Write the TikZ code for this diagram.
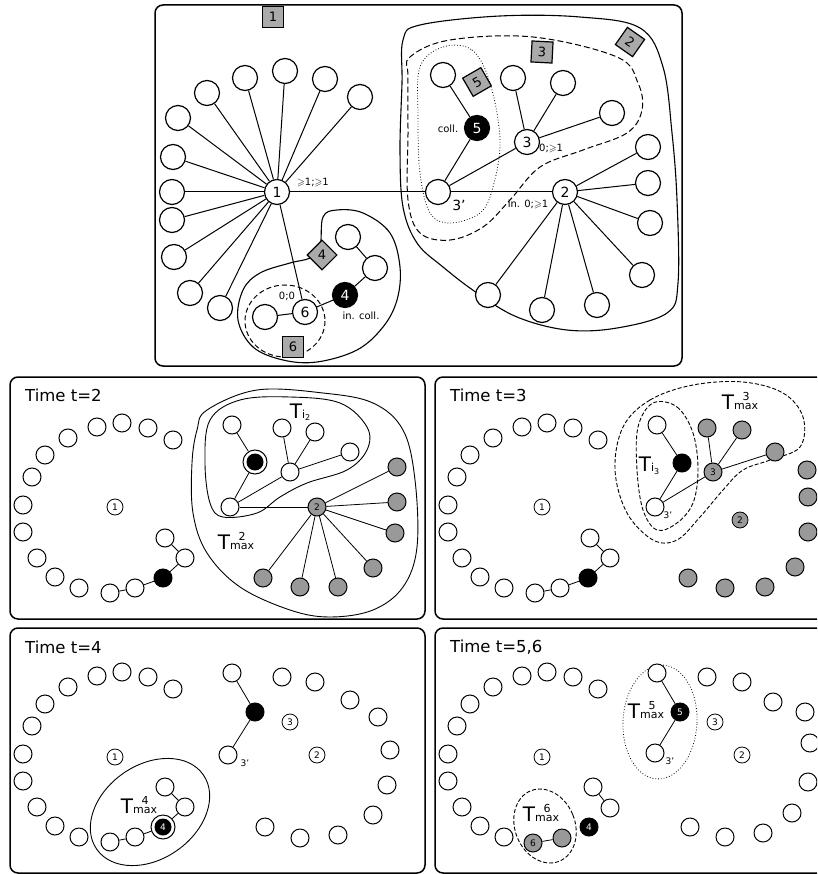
\documentclass[tikz,border=0pt]{standalone}
\usepackage{fontspec}
\setmainfont{DejaVu Sans}
\usepackage{amssymb}
\definecolor{sqgray}{HTML}{AAAAAA}
\definecolor{ngray}{HTML}{999999}
\newcommand{\Tmax}[1]{T{\fontsize{11}{11}\selectfont\setbox0\hbox{max}\rlap{\hbox to\wd0{\hss\raisebox{9pt}{#1}\hss}}\box0}}
\newcommand{\Tind}[1]{T{\fontsize{11}{11}\selectfont i\raisebox{-2.5pt}{\fontsize{8}{8}\selectfont #1}}}
\tikzset{
 every node/.style={inner sep=0pt},
 bn/.style={circle,draw,line width=1.2pt,minimum size=25pt,fill=white,font=\fontsize{14}{14}\selectfont},
 bnb/.style={bn,fill=black,text=white},
 sq/.style={rectangle,draw,line width=1.2pt,fill=sqgray,minimum size=21pt,font=\fontsize{13}{13}\selectfont},
 sn/.style={circle,draw,line width=1pt,minimum size=18pt,fill=white},
 gn/.style={sn,fill=ngray},
 kn/.style={sn,fill=black},
 lnode/.style={circle,draw,line width=0.8pt,minimum size=16pt,fill=white,font=\fontsize{9}{9}\selectfont},
 tl/.style={line width=1pt},
 bl/.style={line width=0.8pt},
 panel/.style={draw,line width=1.5pt,rounded corners=8pt},
 ttl/.style={anchor=west,font=\fontsize{16.5}{16.5}\selectfont},
 sml/.style={font=\fontsize{10}{10}\selectfont},
 tlab/.style={font=\fontsize{20}{20}\selectfont},
}
\newcommand{\leftring}[1]{%
 \foreach \x/\y [count=\i] in {97/427,122/423,148/428,173/440,68/438,45/455,32/477,23/505,23/532,37/558,55/577,79/588,110/593,135/588}
  \node[sn] (#1\i) at (\x,\y) {};}
\begin{document}
\begin{tikzpicture}[x=1pt,y=-1pt]
\useasboundingbox (0,0) rectangle (817,874);
\clip (0,0) rectangle (817,874);
% ================= TOP PANEL =================
\draw[panel] (155,5) rectangle (682,366);
\draw[line width=1.1pt] plot[smooth cycle,tension=0.6] coordinates {(403,40) (420,25) (500,16) (580,17) (640,28) (663,67) (672,133) (677,200) (678,283) (667,313) (617,328) (567,330) (517,317) (477,293) (443,267) (417,243) (403,207) (400,150) (402,83)};
\draw[line width=1pt,dash pattern=on 6pt off 3pt] plot[smooth cycle,tension=0.6] coordinates {(410,57) (450,40) (533,37) (617,57) (638,83) (642,110) (627,133) (583,150) (540,167) (510,200) (483,227) (450,240) (420,233) (408,200) (408,133) (408,77)};
\draw[line width=0.8pt,dotted] plot[smooth cycle,tension=0.6] coordinates {(443,47) (472,50) (490,83) (500,140) (493,187) (480,213) (450,223) (430,213) (420,173) (418,117) (420,67)};
\draw[line width=1.1pt] plot[smooth cycle,tension=0.6] coordinates {(323,217) (337,210) (363,213) (390,233) (400,267) (397,300) (383,327) (357,350) (317,362) (283,360) (253,347) (238,320) (243,290) (260,273) (290,263) (310,258) (320,247)};
\draw[line width=1pt,dash pattern=on 5pt off 3pt] (285,321) ellipse [x radius=40, y radius=36];
% nodes
\node[bn] (n1) at (277,192) {1};
\foreach \x/\y [count=\i] in {245/78,285/71,325/79,360/97,207/93,178/118,173/157,172/192,172/220,174/257,190/293,220/308}
  \node[bn] (a\i) at (\x,\y) {};
\node[bn] (n6) at (305,312) {6};
\node[bn] (l6) at (265,317) {};
\node[bnb] (n4) at (345,295) {4};
\node[bn] (p1) at (375,268) {};
\node[bn] (p2) at (348,237) {};
\node[bn] (n3p) at (438,192) {};
\node[bn] (n2) at (565,192) {2};
\node[bn] (n3) at (527,142) {3};
\node[bnb] (n5) at (477,128) {5};
\node[bn] (q5) at (443,75) {};
\foreach \x/\y [count=\i] in {513/78,563/83,612/113}
  \node[bn] (c\i) at (\x,\y) {};
\foreach \x/\y [count=\i] in {648/147,648/183,650/223,642/275,597/305,542/310,488/295}
  \node[bn] (d\i) at (\x,\y) {};
% edges
\foreach \i in {1,...,12} \draw[tl] (n1) -- (a\i);
\draw[tl] (n1) -- (n6);
\draw[tl] (n1) -- (n3p);
\draw[tl] (l6) -- (n6);
\draw[tl] (n6) -- (n4);
\draw[tl] (n4) -- (p1);
\draw[tl] (p1) -- (p2);
\draw[tl] (n3p) -- (n2);
\draw[tl] (n3p) -- (n5);
\draw[tl] (n5) -- (q5);
\draw[tl] (n3p) -- (n3);
\foreach \i in {1,2,3} \draw[tl] (n3) -- (c\i);
\foreach \i in {1,...,7} \draw[tl] (n2) -- (d\i);
% labels
\node[sml] (g1) at (313,183) {$\geqslant$1;$\geqslant$1};
\node[sml] (g2) at (287,296) {0;0};
\node[sml] (g3) at (361,316) {in. coll.};
\node[sml] (g4) at (448,129) {coll.};
\node[sml,anchor=west] (g5) at (539,148) {0;$\geqslant$1};
\node[font=\fontsize{14}{14}\selectfont] (g6) at (459,205) {3'};
\node[sml] (g7) at (528,204) {in. 0;$\geqslant$1};
% squares
\node[sq] (s1) at (273,17) {1};
\node[sq] (s6) at (293,347) {6};
\node[sq,rotate=45] (s4) at (322,255) {};
\node[font=\fontsize{13}{13}\selectfont] at (s4) {4};
\node[sq,rotate=-3] (s3) at (542,52) {3};
\node[sq,rotate=-35] (s2) at (630,42) {2};
\node[sq,rotate=30] (s5) at (477,82) {5};
% ================= PANEL t=2 =================
\draw[panel] (10,377) rectangle (425,619);
\node[ttl] at (25,395) {Time t=2};
\draw[line width=0.9pt] plot[smooth cycle,tension=0.6] coordinates {(207,410) (257,390) (323,393) (373,403) (403,430) (415,480) (417,547) (403,587) (373,610) (330,617) (290,610) (240,587) (207,553) (193,513) (192,463) (197,430)};
\draw[line width=0.9pt] plot[smooth cycle,tension=0.6] coordinates {(210,420) (240,400) (290,397) (340,403) (367,427) (367,450) (347,470) (307,483) (280,497) (257,513) (223,517) (210,503) (205,463)};
\leftring{A}
\node[kn] (A15) at (163,578) {};
\node[sn] (A16) at (185,558) {};
\node[sn] (A17) at (165,538) {};
\draw[bl] (A13) -- (A14); \draw[bl] (A14) -- (A15); \draw[bl] (A15) -- (A16); \draw[bl] (A16) -- (A17);
\node[lnode] (A0) at (115,507) {1};
\node[sn] (B1) at (232,425) {};
\node[circle,draw,line width=1pt,minimum size=24pt,fill=white] (Bk) at (255,462) {};
\node[circle,fill=black,minimum size=17pt] (Bki) at (255,462) {};
\node[sn] (B3p) at (230,507) {};
\node[sn] (B3) at (290,472) {};
\foreach \x/\y [count=\i] in {282/428,315/432,350/452} \node[sn] (Bl\i) at (\x,\y) {};
\node[gn,font=\fontsize{9}{9}\selectfont] (B2) at (317,507) {2};
\foreach \x/\y [count=\i] in {397/467,397/502,395/533,373/568,338/587,300/587,263/578} \node[gn] (Bg\i) at (\x,\y) {};
\draw[bl] (B1) -- (Bk); \draw[bl] (Bk) -- (B3p); \draw[bl] (B3p) -- (B3);
\foreach \i in {1,2,3} \draw[bl] (B3) -- (Bl\i);
\draw[bl] (B3p) -- (B2);
\foreach \i in {1,...,7} \draw[bl] (B2) -- (Bg\i);
\node[tlab] at (236,541) {\Tmax{2}};
\node[tlab] at (300,412) {\Tind{2}};
% ================= PANEL t=3 =================
\draw[panel] (435,377) rectangle (845,619);
\node[ttl] at (450,395) {Time t=3};
\draw[line width=0.9pt,dash pattern=on 4pt off 2pt] plot[smooth cycle,tension=0.6] coordinates {(653,403) (677,407) (693,433) (698,470) (693,503) (677,523) (657,530) (643,510) (637,470) (638,427)};
\draw[line width=0.9pt,dash pattern=on 4pt off 2pt] plot[smooth cycle,tension=0.6] coordinates {(623,427) (650,400) (693,385) (743,382) (783,393) (803,417) (800,447) (770,460) (743,470) (723,490) (700,517) (677,540) (653,540) (627,513) (615,470)};
\begin{scope}[shift={(425,0)}]
\leftring{C}
\node[kn] (C15) at (163,578) {};
\node[sn] (C16) at (185,558) {};
\node[sn] (C17) at (165,538) {};
\draw[bl] (C13) -- (C14); \draw[bl] (C14) -- (C15); \draw[bl] (C15) -- (C16); \draw[bl] (C16) -- (C17);
\node[lnode] (C0) at (117,507) {1};
\node[sn] (D1) at (232,425) {};
\node[kn] (Dk) at (257,463) {};
\node[sn] (D3p) at (230,507) {};
\node[gn,font=\fontsize{9}{9}\selectfont] (D3) at (288,472) {3};
\foreach \x/\y [count=\i] in {282/428,317/430,350/452} \node[gn] (Dl\i) at (\x,\y) {};
\foreach \x/\y [count=\i] in {382/470,383/497,383/532,370/567,340/587,300/588,263/578} \node[gn] (Dg\i) at (\x,\y) {};
\node[lnode,fill=ngray] (D2) at (315,520) {2};
\draw[bl] (D1) -- (Dk); \draw[bl] (Dk) -- (D3p); \draw[bl] (D3p) -- (D3);
\foreach \i in {1,2,3} \draw[bl] (D3) -- (Dl\i);
\node[font=\fontsize{9}{9}\selectfont] (Dq) at (243,515) {3'};
\end{scope}
\node[tlab] at (649,466) {\Tind{3}};
\node[tlab] at (740,401) {\Tmax{3}};
% ================= PANEL t=4 =================
\draw[panel] (10,628) rectangle (425,873);
\node[ttl] at (25,647) {Time t=4};
\draw[line width=0.9pt,rotate around={35:(150,812)}] (150,812) ellipse [x radius=65, y radius=47];
\begin{scope}[shift={(0,249)}]
\leftring{E}
\node[circle,draw,line width=1pt,minimum size=24pt,fill=white] (E15) at (163,578) {};
\node[circle,fill=black,minimum size=17pt,text=white,font=\fontsize{9}{9}\selectfont] (E15i) at (163,578) {4};
\node[sn] (E16) at (185,558) {};
\node[sn] (E17) at (165,538) {};
\draw[bl] (E13) -- (E14); \draw[bl] (E14) -- (E15); \draw[bl] (E15) -- (E16); \draw[bl] (E16) -- (E17);
\node[lnode] (E0) at (115,508) {1};
\node[sn] (F1) at (232,424) {};
\node[kn] (Fk) at (255,463) {};
\node[sn] (F3p) at (228,506) {};
\node[lnode] (F3) at (290,473) {3};
\node[lnode] (F2) at (317,506) {2};
\foreach \x/\y [count=\i] in {282/428,315/433,350/451,378/468,390/501,387/536,373/566,338/586,300/589,265/578} \node[sn] (Fr\i) at (\x,\y) {};
\draw[bl] (F1) -- (Fk); \draw[bl] (Fk) -- (F3p);
\node[font=\fontsize{9}{9}\selectfont] (Fq) at (245,514) {3'};
\end{scope}
\node[tlab] at (139,805) {\Tmax{4}};
% ================= PANEL t=5,6 =================
\draw[panel] (435,628) rectangle (845,873);
\node[ttl] at (450,647) {Time t=5,6};
\draw[line width=0.8pt,dotted,rotate around={-3:(660,722)}] (660,722) ellipse [x radius=37, y radius=57];
\draw[line width=0.9pt,dash pattern=on 4pt off 2pt,rotate around={22:(545,826)}] (545,826) ellipse [x radius=30, y radius=38];
\begin{scope}[shift={(425,249)}]
\foreach \x/\y [count=\i] in {97/427,122/423,148/428,173/440,68/438,45/455,32/477,23/505,23/532,37/558,55/577,79/588}
  \node[sn] (G\i) at (\x,\y) {};
\node[gn,font=\fontsize{9}{9}\selectfont] (G13) at (108,594) {6};
\node[gn] (G14) at (137,589) {};
\node[kn,text=white,font=\fontsize{9}{9}\selectfont] (G15) at (164,578) {4};
\node[sn] (G16) at (185,559) {};
\node[sn] (G17) at (168,538) {};
\draw[bl] (G13) -- (G14); \draw[bl] (G16) -- (G17);
\node[lnode] (G0) at (117,508) {1};
\node[sn] (H1) at (232,424) {};
\node[kn,text=white,font=\fontsize{9}{9}\selectfont] (Hk) at (255,463) {5};
\node[sn] (H3p) at (230,504) {};
\node[lnode] (H3) at (290,473) {3};
\node[lnode] (H2) at (317,506) {2};
\foreach \x/\y [count=\i] in {282/428,317/433,348/453,380/463,385/494,383/533,367/564,338/584,300/588,265/578} \node[sn] (Hr\i) at (\x,\y) {};
\draw[bl] (H1) -- (Hk); \draw[bl] (Hk) -- (H3p);
\node[font=\fontsize{9}{9}\selectfont] (Hq) at (245,512) {3'};
\end{scope}
\node[tlab] at (646,710) {\Tmax{5}};
\node[tlab] at (541,813) {\Tmax{6}};
\end{tikzpicture}
\end{document}
